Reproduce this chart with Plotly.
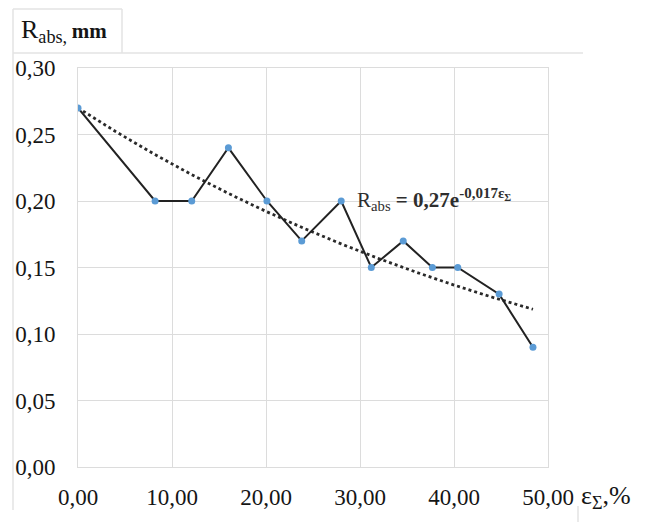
import math
import plotly.graph_objects as go

# Data
strain = [0, 8.2, 12.1, 16.0, 20.1, 23.8, 28.0, 31.2, 34.6, 37.7, 40.4, 44.8, 48.4]
r_abs = [0.27, 0.20, 0.20, 0.24, 0.20, 0.17, 0.20, 0.15, 0.17, 0.15, 0.15, 0.13, 0.09]

# Exponential trendline coefficients shown on the chart: R = 0.27 * exp(-0.017 * eps)
trend_a = 0.27
trend_b = -0.017
trend_x = [0, 4, 8, 12, 16, 20, 24, 28, 32, 36, 40, 44, 48.4]

x_ticks = [0, 10, 20, 30, 40, 50]
x_tick_text = ["0,00", "10,00", "20,00", "30,00", "40,00", "50,00"]
y_ticks = [0, 0.05, 0.10, 0.15, 0.20, 0.25, 0.30]
y_tick_text = ["0,00", "0,05", "0,10", "0,15", "0,20", "0,25", "0,30"]

trend_y = [trend_a * math.exp(trend_b * v) for v in trend_x]

W, H = 648, 522
L, R, T, B = 78, 548, 68, 467

def px(xp):
    return (xp - L) / (R - L)

def py(yp):
    return (B - yp) / (B - T)

FONT = "Liberation Serif, Times New Roman, serif"
TXT = "#151515"

fig = go.Figure()
fig.add_trace(go.Scatter(
    x=trend_x, y=trend_y, mode="lines",
    line=dict(color="#2a2a2a", width=2.8, dash="dot"),
    hoverinfo="skip", showlegend=False))
fig.add_trace(go.Scatter(
    x=strain, y=r_abs, mode="lines+markers",
    line=dict(color="#222222", width=2),
    marker=dict(color="#5b9bd5", size=7),
    showlegend=False))

grid = "#dcdcdc"
fig.update_xaxes(
    range=[0, 50], tickvals=x_ticks, ticktext=x_tick_text,
    showgrid=True, gridcolor=grid, gridwidth=1,
    showline=True, linecolor=grid, linewidth=1, mirror=True,
    zeroline=False, ticks="", ticklabelstandoff=9, automargin=False,
    tickfont=dict(family=FONT, size=23, color=TXT))
fig.update_yaxes(
    range=[0, 0.30], tickvals=y_ticks, ticktext=y_tick_text,
    showgrid=True, gridcolor=grid, gridwidth=1,
    showline=True, linecolor=grid, linewidth=1, mirror=True,
    zeroline=False, ticks="", ticklabelstandoff=17, automargin=False,
    tickfont=dict(family=FONT, size=23, color=TXT))

shape_line = dict(color="#e3e3e3", width=1.5)
shapes = [
    # outer frame (top and left)
    dict(type="line", xref="paper", yref="paper", x0=px(13), y0=py(53), x1=px(583), y1=py(53), line=shape_line),
    dict(type="line", xref="paper", yref="paper", x0=px(13), y0=py(53), x1=px(13), y1=py(510), line=shape_line),
    # unit label box
    dict(type="line", xref="paper", yref="paper", x0=px(13), y0=py(9), x1=px(13), y1=py(53), line=shape_line),
    dict(type="line", xref="paper", yref="paper", x0=px(122), y0=py(9), x1=px(122), y1=py(53), line=shape_line),
    dict(type="line", xref="paper", yref="paper", x0=px(13), y0=py(9), x1=px(122), y1=py(9), line=shape_line),
    dict(type="line", xref="paper", yref="paper", x0=px(578), y0=py(506), x1=px(578), y1=py(522), line=shape_line),
]

annotations = [
    dict(xref="paper", yref="paper", x=px(19), y=py(31), xanchor="left", yanchor="middle",
         text="R<sub>abs, </sub><b><span style='font-size:21px'>mm</span></b>", showarrow=False,
         font=dict(family=FONT, size=26, color=TXT)),
    dict(xref="paper", yref="paper", x=px(579), y=py(497), xanchor="left", yanchor="middle",
         text="ε<sub>Σ</sub>,%", showarrow=False,
         font=dict(family=FONT, size=26, color=TXT)),
    dict(xref="paper", yref="paper", x=px(355), y=py(199), xanchor="left", yanchor="middle",
         text="R<sub>abs</sub> <b><span style='font-size:21px'>= 0,27e</span><sup><span style='font-size:15px'>-0,017ε<sub>Σ</sub></span></sup></b>",
         showarrow=False,
         font=dict(family=FONT, size=21, color="#2e2e2e")),
]

fig.update_layout(
    width=W, height=H,
    margin=dict(l=L, r=W - R, t=T, b=H - B),
    paper_bgcolor="white", plot_bgcolor="white",
    shapes=shapes, annotations=annotations,
    font=dict(family=FONT),
)

fig.write_html("out.html", config={"displayModeBar": False},
               post_script="document.body.style.margin='0';")
